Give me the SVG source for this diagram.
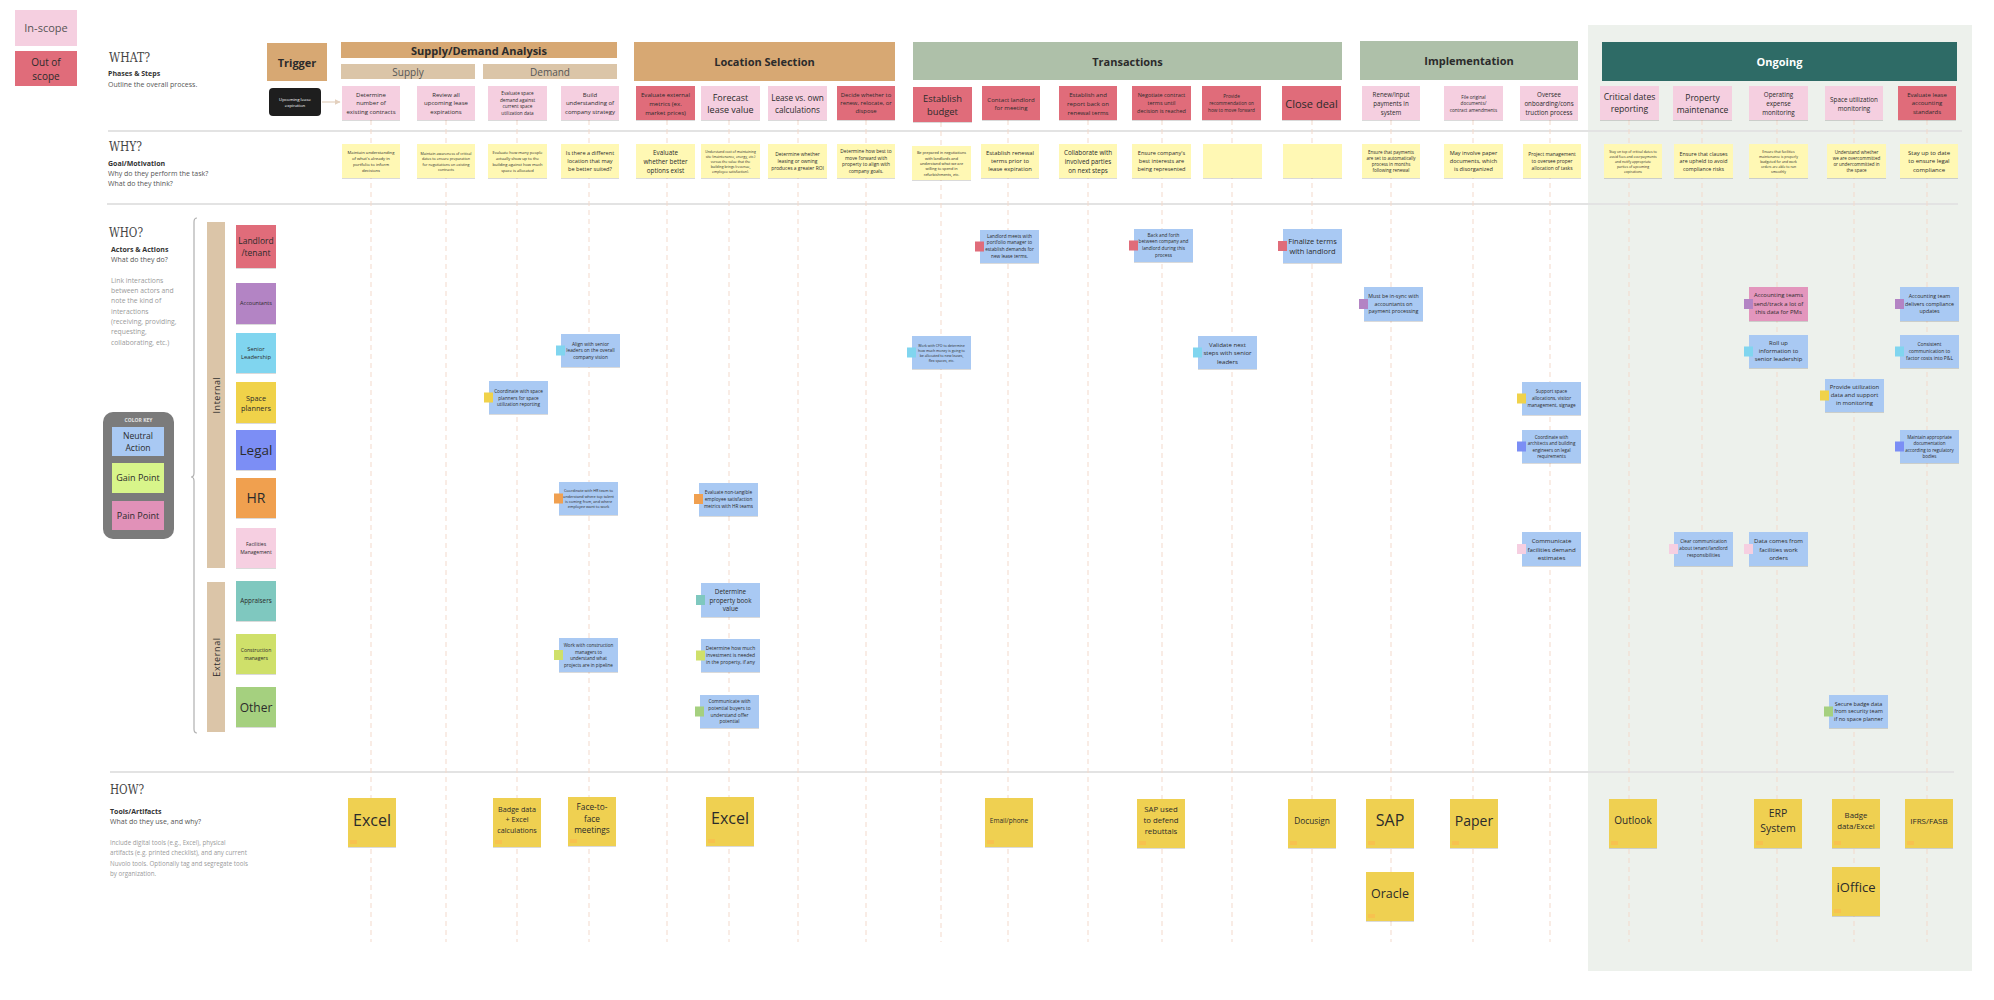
<svg xmlns="http://www.w3.org/2000/svg" width="1994" height="1000" viewBox="0 0 1994 1000">
<defs>
<style>
.t{font-family:"Open Sans","Liberation Sans",sans-serif;fill:#2b2b2b;text-anchor:middle;dominant-baseline:central}
.l{font-family:"Open Sans","Liberation Sans",sans-serif;fill:#333;dominant-baseline:central}
.b{font-weight:700}
.g{fill:#9a9a9a}
.m{fill:#555}
.s{font-family:"DejaVu Serif","Liberation Serif",serif;fill:#444;dominant-baseline:central}
.pk{fill:#f5cfe0}.rd{fill:#e06c7a}.yw{fill:#fff8b4}.bl{fill:#a9c9f3}.tl{fill:#efd051}
.tan{fill:#d7a873}.beige{fill:#dbc5a8}.sage{fill:#aec0a9}
.sh{filter:url(#sh)}
.dash{stroke:#f3d9cb;stroke-width:1;stroke-dasharray:5 4;fill:none}
.sep{stroke:#e3e3e3;stroke-width:2}
.LL{fill:#e06c7a}.AC{fill:#b384c4}.SL{fill:#80d5ef}.SP{fill:#f0d24a}.LG{fill:#7b8ef5}.HR{fill:#f0a050}.FM{fill:#f6cfe1}.AP{fill:#7fc8bf}.CM{fill:#cfe06a}.OT{fill:#a5d07f}
.tt{fill:#f7c24f}
</style>
<filter id="sh" x="-10%" y="-10%" width="120%" height="130%"><feDropShadow dx="0" dy="0.8" stdDeviation="0.6" flood-color="#000" flood-opacity="0.18"/></filter>
<marker id="ah" viewBox="0 0 10 10" refX="9" refY="5" markerWidth="5" markerHeight="5" orient="auto"><path d="M0,0 L10,5 L0,10 z" fill="#e3d0be"/></marker>
</defs>
<rect x="0" y="0" width="1994" height="1000" fill="#ffffff"/>
<rect id="ongoing-panel" x="1588" y="25" width="384" height="946" fill="#edf1ec"/>

<g id="separators">
<line class="sep" x1="108" y1="131" x2="1962" y2="131"/>
<line class="sep" x1="107" y1="204" x2="1958" y2="204"/>
<line class="sep" x1="110" y1="772" x2="1954" y2="772"/>
</g>

<g id="connectors">
<line class="dash" x1="371" y1="120" x2="371" y2="942"/>
<line class="dash" x1="446" y1="120" x2="446" y2="942"/>
<line class="dash" x1="517" y1="120" x2="517" y2="942"/>
<line class="dash" x1="589" y1="120" x2="589" y2="942"/>
<line class="dash" x1="667" y1="120" x2="667" y2="942"/>
<line class="dash" x1="729" y1="120" x2="729" y2="942"/>
<line class="dash" x1="798" y1="120" x2="798" y2="942"/>
<line class="dash" x1="866" y1="120" x2="866" y2="942"/>
<line class="dash" x1="941" y1="122" x2="941" y2="942"/>
<line class="dash" x1="1008" y1="120" x2="1008" y2="942"/>
<line class="dash" x1="1088" y1="120" x2="1088" y2="942"/>
<line class="dash" x1="1162" y1="120" x2="1162" y2="942"/>
<line class="dash" x1="1232" y1="120" x2="1232" y2="942"/>
<line class="dash" x1="1312" y1="120" x2="1312" y2="942"/>
<line class="dash" x1="1391" y1="120" x2="1391" y2="942"/>
<line class="dash" x1="1473" y1="120" x2="1473" y2="942"/>
<line class="dash" x1="1550" y1="120" x2="1550" y2="942"/>
<line class="dash" x1="1629" y1="120" x2="1629" y2="942"/>
<line class="dash" x1="1702" y1="120" x2="1702" y2="942"/>
<line class="dash" x1="1777" y1="120" x2="1777" y2="942"/>
<line class="dash" x1="1854" y1="120" x2="1854" y2="942"/>
<line class="dash" x1="1927" y1="120" x2="1927" y2="942"/>
<line x1="322" y1="102" x2="340" y2="102" stroke="#e3d0be" stroke-width="1.2" marker-end="url(#ah)"/>
</g>

<!-- legend -->
<g id="legend-inscope"><rect class="pk" x="15" y="10" width="62" height="36"/><text class="t m" x="46" y="27.5" font-size="11">In-scope</text></g>
<g id="legend-outscope"><rect class="rd" x="15" y="51" width="62" height="35"/><text class="t" font-size="10"><tspan x="46" y="61.5">Out of</tspan><tspan x="46" y="75.5">scope</tspan></text></g>

<!-- section labels -->
<g id="label-what">
<text class="s" x="109" y="57" font-size="13" textLength="41" lengthAdjust="spacingAndGlyphs">WHAT?</text>
<text class="l b" x="108" y="73" font-size="7">Phases &amp; Steps</text>
<text class="l m" x="108" y="84" font-size="7">Outline the overall process.</text>
</g>
<g id="label-why">
<text class="s" x="109" y="146" font-size="13" textLength="33" lengthAdjust="spacingAndGlyphs">WHY?</text>
<text class="l b" x="108" y="163" font-size="7">Goal/Motivation</text>
<text class="l m" x="108" y="173.3" font-size="7">Why do they perform the task?</text>
<text class="l m" x="108" y="183" font-size="7">What do they think?</text>
</g>
<g id="label-who">
<text class="s" x="109" y="232.5" font-size="13" textLength="34" lengthAdjust="spacingAndGlyphs">WHO?</text>
<text class="l b" x="111" y="249" font-size="7">Actors &amp; Actions</text>
<text class="l m" x="111" y="259" font-size="7">What do they do?</text>
<text class="l g" font-size="6.8"><tspan x="111" y="279.5">Link interactions</tspan><tspan x="111" y="290">between actors and</tspan><tspan x="111" y="300">note the kind of</tspan><tspan x="111" y="310.5">interactions</tspan><tspan x="111" y="320.5">(receiving, providing,</tspan><tspan x="111" y="331">requesting,</tspan><tspan x="111" y="341.5">collaborating, etc.)</tspan></text>
</g>
<g id="label-how">
<text class="s" x="110" y="789.5" font-size="13" textLength="34" lengthAdjust="spacingAndGlyphs">HOW?</text>
<text class="l b" x="110" y="811" font-size="7">Tools/Artifacts</text>
<text class="l m" x="110" y="821.3" font-size="7">What do they use, and why?</text>
<text class="l g" font-size="6.2"><tspan x="110" y="841.7">Include digital tools (e.g., Excel), physical</tspan><tspan x="110" y="852">artifacts (e.g. printed checklist), and any current</tspan><tspan x="110" y="862.7">Nuvolo tools. Optionally tag and segregate tools</tspan><tspan x="110" y="873">by organization.</tspan></text>
</g>

<!-- color key -->
<g id="color-key">
<rect x="103" y="412" width="71" height="127" rx="10" fill="#7b7b7b"/>
<text class="t b" x="138.5" y="420" font-size="5" style="fill:#e4e4e4">COLOR KEY</text>
<rect class="bl" x="112" y="427" width="52" height="29"/>
<text class="t" font-size="8.6"><tspan x="138" y="435.5">Neutral</tspan><tspan x="138" y="447.5">Action</tspan></text>
<rect x="112" y="463" width="52" height="30" fill="#d8f58a"/>
<text class="t" x="138" y="477.5" font-size="9">Gain Point</text>
<rect x="112" y="501" width="52" height="29" fill="#e191b8"/>
<text class="t" x="138" y="515" font-size="9">Pain Point</text>
</g>

<!-- brace and lane bars -->
<path id="brace" d="M197,218 Q194,218 194,222 L194,473 Q194,477 191,477 Q194,477 194,481 L194,729 Q194,733 197,733" fill="none" stroke="#b0b0b0" stroke-width="1.2"/>
<g id="lane-internal"><rect class="beige" x="207" y="222" width="18" height="346"/><text class="t" x="216" y="395" font-size="9" letter-spacing="0.5" transform="rotate(-90 216 395)">Internal</text></g>
<g id="lane-external"><rect class="beige" x="207" y="582" width="18" height="150"/><text class="t" x="216" y="657" font-size="9" letter-spacing="0.6" transform="rotate(-90 216 657)">External</text></g>

<!-- actors -->
<g id="actor-landlord"><rect class="LL sh" x="236" y="225" width="40" height="43"/><text class="t" font-size="8.5"><tspan x="256" y="240">Landlord</tspan><tspan x="256" y="252">/tenant</tspan></text></g>
<g id="actor-accountants"><rect class="AC sh" x="236" y="283" width="40" height="41"/><text class="t" x="256" y="303" font-size="5.5">Accountants</text></g>
<g id="actor-senior"><rect class="SL sh" x="236" y="333" width="40" height="40"/><text class="t" font-size="5.8"><tspan x="256" y="349">Senior</tspan><tspan x="256" y="357">Leadership</tspan></text></g>
<g id="actor-space"><rect class="SP sh" x="236" y="382" width="40" height="41"/><text class="t" font-size="7.3"><tspan x="256" y="397.5">Space</tspan><tspan x="256" y="407.5">planners</tspan></text></g>
<g id="actor-legal"><rect class="LG sh" x="236" y="430" width="40" height="40"/><text class="t" x="256" y="450" font-size="13.5">Legal</text></g>
<g id="actor-hr"><rect class="HR sh" x="236" y="478" width="40" height="40"/><text class="t" x="256" y="497" font-size="14">HR</text></g>
<g id="actor-fm"><rect class="FM sh" x="236" y="528" width="40" height="40"/><text class="t" font-size="5.1"><tspan x="256" y="544">Facilities</tspan><tspan x="256" y="551.5">Management</tspan></text></g>
<g id="actor-appraisers"><rect class="AP sh" x="236" y="581" width="40" height="40"/><text class="t" x="256" y="600" font-size="6.3">Appraisers</text></g>
<g id="actor-construction"><rect class="CM sh" x="236" y="634" width="40" height="40"/><text class="t" font-size="5.1"><tspan x="256" y="650">Construction</tspan><tspan x="256" y="657.5">managers</tspan></text></g>
<g id="actor-other"><rect class="OT sh" x="236" y="687" width="40" height="40"/><text class="t" x="256" y="707" font-size="12">Other</text></g>

<!-- phase headers -->
<g id="hdr-trigger"><rect class="tan" x="267" y="43" width="60" height="38"/><text class="t b" x="297" y="62" font-size="11">Trigger</text></g>
<g id="hdr-supplydemand"><rect class="tan" x="341" y="42" width="276" height="16"/><text class="t b" x="479" y="50" font-size="11">Supply/Demand Analysis</text></g>
<g id="hdr-supply"><rect class="beige" x="341" y="64" width="134" height="15"/><text class="t m" x="408" y="71.5" font-size="10">Supply</text></g>
<g id="hdr-demand"><rect class="beige" x="483" y="64" width="134" height="15"/><text class="t m" x="550" y="71.5" font-size="10">Demand</text></g>
<g id="hdr-location"><rect class="tan" x="634" y="42" width="261" height="39"/><text class="t b" x="764.5" y="61" font-size="11">Location Selection</text></g>
<g id="hdr-transactions"><rect class="sage" x="913" y="42" width="429" height="38"/><text class="t b" x="1127.5" y="61" font-size="11">Transactions</text></g>
<g id="hdr-implementation"><rect class="sage" x="1360" y="41" width="218" height="39"/><text class="t b" x="1469" y="60.5" font-size="11">Implementation</text></g>
<g id="hdr-ongoing"><rect x="1602" y="42" width="355" height="39" fill="#2e6b66"/><text class="t b" x="1779.5" y="61.5" font-size="11" style="fill:#ffffff">Ongoing</text></g>

<!-- trigger event -->
<g id="trigger-event"><rect x="269" y="88" width="52" height="28" rx="4" fill="#1e1e1e"/><text class="t" font-size="4.3" style="fill:#ffffff"><tspan x="295" y="98.7">Upcoming lease</tspan><tspan x="295" y="105.3">expiration</tspan></text></g>

<!-- steps -->
<g id="s01"><rect class="pk sh" x="342" y="86" width="58" height="34"/><text class="t" font-size="6"><tspan x="371" y="94.5">Determine</tspan><tspan x="371" y="103">number of</tspan><tspan x="371" y="111.5">existing contracts</tspan></text></g>
<g id="s02"><rect class="pk sh" x="417" y="86" width="58" height="34"/><text class="t" font-size="6"><tspan x="446" y="94.5">Review all</tspan><tspan x="446" y="103">upcoming lease</tspan><tspan x="446" y="111.5">expirations</tspan></text></g>
<g id="s03"><rect class="pk sh" x="488" y="86" width="59" height="34"/><text class="t" font-size="4.7"><tspan x="517.5" y="93">Evaluate space</tspan><tspan x="517.5" y="99.7">demand against</tspan><tspan x="517.5" y="106.3">current space</tspan><tspan x="517.5" y="113">utilization data</tspan></text></g>
<g id="s04"><rect class="pk sh" x="561" y="86" width="58" height="34"/><text class="t" font-size="6"><tspan x="590" y="94.5">Build</tspan><tspan x="590" y="103">understanding of</tspan><tspan x="590" y="111.5">company strategy</tspan></text></g>
<g id="s05"><rect class="rd sh" x="636" y="86" width="59" height="34"/><text class="t" font-size="6.1"><tspan x="665.5" y="94.3">Evaluate external</tspan><tspan x="665.5" y="103">metrics (ex.</tspan><tspan x="665.5" y="111.7">market prices)</tspan></text></g>
<g id="s06"><rect class="pk sh" x="701" y="86" width="59" height="34"/><text class="t" font-size="9"><tspan x="730.5" y="96.6">Forecast</tspan><tspan x="730.5" y="109.4">lease value</tspan></text></g>
<g id="s07"><rect class="pk sh" x="768" y="86" width="59" height="34"/><text class="t" font-size="8.2"><tspan x="797.5" y="97.2">Lease vs. own</tspan><tspan x="797.5" y="108.8">calculations</tspan></text></g>
<g id="s08"><rect class="rd sh" x="837" y="86" width="58" height="34"/><text class="t" font-size="5.9"><tspan x="866" y="94.6">Decide whether to</tspan><tspan x="866" y="103">renew, relocate, or</tspan><tspan x="866" y="111.4">dispose</tspan></text></g>
<g id="s09"><rect class="rd sh" x="913" y="87" width="59" height="35"/><text class="t" font-size="9.4"><tspan x="942.5" y="97.8">Establish</tspan><tspan x="942.5" y="111.1">budget</tspan></text></g>
<g id="s10"><rect class="rd sh" x="982" y="86" width="58" height="34"/><text class="t" font-size="6.1"><tspan x="1011" y="98.7">Contact landlord</tspan><tspan x="1011" y="107.3">for meeting</tspan></text></g>
<g id="s11"><rect class="rd sh" x="1059" y="86" width="58" height="34"/><text class="t" font-size="6.1"><tspan x="1088" y="94.3">Establish and</tspan><tspan x="1088" y="103">report back on</tspan><tspan x="1088" y="111.7">renewal terms</tspan></text></g>
<g id="s12"><rect class="rd sh" x="1132" y="86" width="59" height="34"/><text class="t" font-size="5.5"><tspan x="1161.5" y="95.2">Negotiate contract</tspan><tspan x="1161.5" y="103">terms until</tspan><tspan x="1161.5" y="110.8">decision is reached</tspan></text></g>
<g id="s13"><rect class="rd sh" x="1202" y="86" width="59" height="34"/><text class="t" font-size="4.7"><tspan x="1231.5" y="96.3">Provide</tspan><tspan x="1231.5" y="103">recommendation on</tspan><tspan x="1231.5" y="109.7">how to move forward</tspan></text></g>
<g id="s14"><rect class="rd sh" x="1282" y="86" width="59" height="34"/><text class="t" x="1311.5" y="103" font-size="11">Close deal</text></g>
<g id="s15"><rect class="pk sh" x="1362" y="86" width="58" height="34"/><text class="t" font-size="6.2"><tspan x="1391" y="94.2">Renew/input</tspan><tspan x="1391" y="103">payments in</tspan><tspan x="1391" y="111.8">system</tspan></text></g>
<g id="s16"><rect class="pk sh" x="1444" y="86" width="59" height="34"/><text class="t" font-size="4.6"><tspan x="1473.5" y="96.5">File original</tspan><tspan x="1473.5" y="103">documents/</tspan><tspan x="1473.5" y="109.5">contract amendments</tspan></text></g>
<g id="s17"><rect class="pk sh" x="1520" y="86" width="58" height="34"/><text class="t" font-size="6.2"><tspan x="1549" y="94.2">Oversee</tspan><tspan x="1549" y="103">onboarding/cons</tspan><tspan x="1549" y="111.8">truction process</tspan></text></g>
<g id="s18"><rect class="pk sh" x="1600" y="86" width="59" height="34"/><text class="t" font-size="8.6"><tspan x="1629.5" y="96.9">Critical dates</tspan><tspan x="1629.5" y="109.1">reporting</tspan></text></g>
<g id="s19"><rect class="pk sh" x="1673" y="86" width="59" height="34"/><text class="t" font-size="8.5"><tspan x="1702.5" y="97">Property</tspan><tspan x="1702.5" y="109">maintenance</tspan></text></g>
<g id="s20"><rect class="pk sh" x="1749" y="86" width="59" height="34"/><text class="t" font-size="6.3"><tspan x="1778.5" y="94">Operating</tspan><tspan x="1778.5" y="103">expense</tspan><tspan x="1778.5" y="112">monitoring</tspan></text></g>
<g id="s21"><rect class="pk sh" x="1825" y="86" width="58" height="34"/><text class="t" font-size="6.3"><tspan x="1854" y="98.5">Space utilization</tspan><tspan x="1854" y="107.5">monitoring</tspan></text></g>
<g id="s22"><rect class="rd sh" x="1898" y="86" width="58" height="34"/><text class="t" font-size="6"><tspan x="1927" y="94.5">Evaluate lease</tspan><tspan x="1927" y="103">accounting</tspan><tspan x="1927" y="111.5">standards</tspan></text></g>

<!-- why -->
<g id="w01"><rect class="yw sh" x="342" y="144" width="58" height="34"/><text class="t" font-size="4.2"><tspan x="371" y="152">Maintain understanding</tspan><tspan x="371" y="158">of what's already in</tspan><tspan x="371" y="164">portfolio to inform</tspan><tspan x="371" y="170">decisions</tspan></text></g>
<g id="w02"><rect class="yw sh" x="417" y="144" width="58" height="34"/><text class="t" font-size="3.7"><tspan x="446" y="153.05">Maintain awareness of critical</tspan><tspan x="446" y="158.35">dates to ensure preparation</tspan><tspan x="446" y="163.65">for negotiations on existing</tspan><tspan x="446" y="168.95">contracts</tspan></text></g>
<g id="w03"><rect class="yw sh" x="488" y="144" width="59" height="34"/><text class="t" font-size="4"><tspan x="517.5" y="152.45">Evaluate how many people</tspan><tspan x="517.5" y="158.15">actually show up to the</tspan><tspan x="517.5" y="163.85">building against how much</tspan><tspan x="517.5" y="169.55">space is allocated</tspan></text></g>
<g id="w04"><rect class="yw sh" x="561" y="144" width="58" height="34"/><text class="t" font-size="5.6"><tspan x="590" y="153">Is there a different</tspan><tspan x="590" y="161">location that may</tspan><tspan x="590" y="169">be better suited?</tspan></text></g>
<g id="w05"><rect class="yw sh" x="636" y="144" width="59" height="34"/><text class="t" font-size="6.3"><tspan x="665.5" y="152">Evaluate</tspan><tspan x="665.5" y="161">whether better</tspan><tspan x="665.5" y="170">options exist</tspan></text></g>
<g id="w06"><rect class="yw sh" x="701" y="144" width="59" height="34"/><text class="t" font-size="3.45"><tspan x="730.5" y="151.2">Understand cost of maintaining</tspan><tspan x="730.5" y="156.1">site (maintenance, energy, etc.)</tspan><tspan x="730.5" y="161">versus the value that the</tspan><tspan x="730.5" y="165.9">building brings (revenue,</tspan><tspan x="730.5" y="170.8">employee satisfaction).</tspan></text></g>
<g id="w07"><rect class="yw sh" x="768" y="144" width="59" height="34"/><text class="t" font-size="4.9"><tspan x="797.5" y="154">Determine whether</tspan><tspan x="797.5" y="161">leasing or owning</tspan><tspan x="797.5" y="168">produces a greater ROI</tspan></text></g>
<g id="w08"><rect class="yw sh" x="837" y="144" width="58" height="34"/><text class="t" font-size="4.8"><tspan x="866" y="150.8">Determine how best to</tspan><tspan x="866" y="157.6">move forward with</tspan><tspan x="866" y="164.4">property to align with</tspan><tspan x="866" y="171.2">company goals.</tspan></text></g>
<g id="w09"><rect class="yw sh" x="912" y="146" width="59" height="34"/><text class="t" font-size="3.8"><tspan x="941.5" y="152.2">Be prepared in negotiations</tspan><tspan x="941.5" y="157.6">with landlords and</tspan><tspan x="941.5" y="163">understand what we are</tspan><tspan x="941.5" y="168.4">willing to spend in</tspan><tspan x="941.5" y="173.8">refurbishments, etc.</tspan></text></g>
<g id="w10"><rect class="yw sh" x="981" y="144" width="58" height="34"/><text class="t" font-size="5.9"><tspan x="1010" y="152.7">Establish renewal</tspan><tspan x="1010" y="161">terms prior to</tspan><tspan x="1010" y="169.3">lease expiration</tspan></text></g>
<g id="w11"><rect class="yw sh" x="1059" y="144" width="58" height="34"/><text class="t" font-size="6.3"><tspan x="1088" y="151.7">Collaborate with</tspan><tspan x="1088" y="161">involved parties</tspan><tspan x="1088" y="170.3">on next steps</tspan></text></g>
<g id="w12"><rect class="yw sh" x="1132" y="144" width="59" height="34"/><text class="t" font-size="5.6"><tspan x="1161.5" y="153">Ensure company's</tspan><tspan x="1161.5" y="161">best interests are</tspan><tspan x="1161.5" y="169">being represented</tspan></text></g>
<g id="w13"><rect class="yw sh" x="1203" y="144" width="59" height="34"/></g>
<g id="w14"><rect class="yw sh" x="1283" y="144" width="59" height="34"/></g>
<g id="w15"><rect class="yw sh" x="1362" y="144" width="58" height="34"/><text class="t" font-size="4.5"><tspan x="1391" y="151.55">Ensure that payments</tspan><tspan x="1391" y="157.85">are set to automatically</tspan><tspan x="1391" y="164.15">process in months</tspan><tspan x="1391" y="170.45">following renewal</tspan></text></g>
<g id="w16"><rect class="yw sh" x="1444" y="144" width="59" height="34"/><text class="t" font-size="5.6"><tspan x="1473.5" y="153">May involve paper</tspan><tspan x="1473.5" y="161">documents, which</tspan><tspan x="1473.5" y="169">is disorganized</tspan></text></g>
<g id="w17"><rect class="yw sh" x="1523" y="144" width="58" height="34"/><text class="t" font-size="4.9"><tspan x="1552" y="154">Project management</tspan><tspan x="1552" y="161">to oversee proper</tspan><tspan x="1552" y="168">allocation of tasks</tspan></text></g>
<g id="w18"><rect class="yw sh" x="1604" y="144" width="58" height="34"/><text class="t" font-size="3.45"><tspan x="1633" y="151.2">Stay on top of critical dates to</tspan><tspan x="1633" y="156.1">avoid fees and overpayments</tspan><tspan x="1633" y="161">and notify appropriate</tspan><tspan x="1633" y="165.9">parties of upcoming</tspan><tspan x="1633" y="170.8">expirations</tspan></text></g>
<g id="w19"><rect class="yw sh" x="1674" y="144" width="59" height="34"/><text class="t" font-size="5.3"><tspan x="1703.5" y="153.5">Ensure that clauses</tspan><tspan x="1703.5" y="161">are upheld to avoid</tspan><tspan x="1703.5" y="168.5">compliance risks</tspan></text></g>
<g id="w20"><rect class="yw sh" x="1749" y="144" width="59" height="34"/><text class="t" font-size="3.45"><tspan x="1778.5" y="151.2">Ensure that facilities</tspan><tspan x="1778.5" y="156.1">maintenance is properly</tspan><tspan x="1778.5" y="161">budgeted for and work</tspan><tspan x="1778.5" y="165.9">orders are able to run</tspan><tspan x="1778.5" y="170.8">smoothly</tspan></text></g>
<g id="w21"><rect class="yw sh" x="1827" y="144" width="59" height="34"/><text class="t" font-size="4.5"><tspan x="1856.5" y="151.55">Understand whether</tspan><tspan x="1856.5" y="157.85">we are overcommitted</tspan><tspan x="1856.5" y="164.15">or undercommitted in</tspan><tspan x="1856.5" y="170.45">the space</tspan></text></g>
<g id="w22"><rect class="yw sh" x="1900" y="144" width="58" height="34"/><text class="t" font-size="6"><tspan x="1929" y="152.5">Stay up to date</tspan><tspan x="1929" y="161">to ensure legal</tspan><tspan x="1929" y="169.5">compliance</tspan></text></g>

<!-- actions -->
<g id="a01"><rect class="bl sh" x="561" y="334" width="59" height="33"/><rect class="SL" x="556" y="345.5" width="9" height="10"/><text class="t" font-size="4.8"><tspan x="590.5" y="343.5">Align with senior</tspan><tspan x="590.5" y="350.3">leaders on the overall</tspan><tspan x="590.5" y="357.1">company vision</tspan></text></g>
<g id="a02"><rect class="bl sh" x="489" y="381" width="59" height="33"/><rect class="SP" x="484" y="392.5" width="9" height="10"/><text class="t" font-size="4.7"><tspan x="518.5" y="390.8">Coordinate with space</tspan><tspan x="518.5" y="397.5">planners for space</tspan><tspan x="518.5" y="404.2">utilization reporting</tspan></text></g>
<g id="a03"><rect class="bl sh" x="559" y="482" width="59" height="33"/><rect class="HR" x="554" y="493.5" width="9" height="10"/><text class="t" font-size="3.8"><tspan x="588.5" y="490.2">Coordinate with HR team to</tspan><tspan x="588.5" y="495.6">understand where top talent</tspan><tspan x="588.5" y="501">is coming from, and where</tspan><tspan x="588.5" y="506.4">employee want to work</tspan></text></g>
<g id="a04"><rect class="bl sh" x="699" y="483" width="59" height="33"/><rect class="HR" x="694" y="494" width="9" height="10"/><text class="t" font-size="4.7"><tspan x="728.5" y="492.3">Evaluate non-tangible</tspan><tspan x="728.5" y="499">employee satisfaction</tspan><tspan x="728.5" y="505.7">metrics with HR teams</tspan></text></g>
<g id="a05"><rect class="bl sh" x="701" y="583" width="59" height="34"/><rect class="AP" x="696" y="595" width="9" height="10"/><text class="t" font-size="6.3"><tspan x="730.5" y="590.5">Determine</tspan><tspan x="730.5" y="599.5">property book</tspan><tspan x="730.5" y="608.3">value</tspan></text></g>
<g id="a06"><rect class="bl sh" x="701" y="639" width="59" height="33"/><rect class="CM" x="696" y="650.5" width="9" height="10"/><text class="t" font-size="4.9"><tspan x="730.5" y="648.4">Determine how much</tspan><tspan x="730.5" y="655.4">investment is needed</tspan><tspan x="730.5" y="662.4">in the property, if any</tspan></text></g>
<g id="a07"><rect class="bl sh" x="700" y="695" width="59" height="33"/><rect class="OT" x="695" y="706.5" width="9" height="10"/><text class="t" font-size="4.8"><tspan x="729.5" y="701">Communicate with</tspan><tspan x="729.5" y="707.8">potential buyers to</tspan><tspan x="729.5" y="714.6">understand offer</tspan><tspan x="729.5" y="721.4">potential</tspan></text></g>
<g id="a08"><rect class="bl sh" x="559" y="638" width="59" height="34"/><rect class="CM" x="554" y="650" width="9" height="10"/><text class="t" font-size="4.6"><tspan x="588.5" y="645.2">Work with construction</tspan><tspan x="588.5" y="651.7">managers to</tspan><tspan x="588.5" y="658.2">understand what</tspan><tspan x="588.5" y="664.7">projects are in pipeline</tspan></text></g>
<g id="a09"><rect class="bl sh" x="912" y="336" width="59" height="33"/><rect class="SL" x="907" y="347.5" width="9" height="10"/><text class="t" font-size="3.5"><tspan x="941.5" y="344.7">Work with CFO to determine</tspan><tspan x="941.5" y="349.7">how much money is going to</tspan><tspan x="941.5" y="354.7">be allocated to new leases,</tspan><tspan x="941.5" y="359.7">flex spaces, etc.</tspan></text></g>
<g id="a10"><rect class="bl sh" x="980" y="230" width="59" height="33"/><rect class="LL" x="975" y="241.5" width="9" height="10"/><text class="t" font-size="4.7"><tspan x="1009.5" y="235.5">Landlord meets with</tspan><tspan x="1009.5" y="242.2">portfolio manager to</tspan><tspan x="1009.5" y="248.8">establish demands for</tspan><tspan x="1009.5" y="255.5">new lease terms.</tspan></text></g>
<g id="a11"><rect class="bl sh" x="1134" y="229" width="59" height="33"/><rect class="LL" x="1129" y="240.5" width="9" height="10"/><text class="t" font-size="4.7"><tspan x="1163.5" y="234.5">Back and forth</tspan><tspan x="1163.5" y="241.2">between company and</tspan><tspan x="1163.5" y="247.8">landlord during this</tspan><tspan x="1163.5" y="254.5">process</tspan></text></g>
<g id="a12"><rect class="bl sh" x="1198" y="336" width="59" height="33"/><rect class="SL" x="1193" y="347.5" width="9" height="10"/><text class="t" font-size="6.1"><tspan x="1227.5" y="343.5">Validate next</tspan><tspan x="1227.5" y="352">steps with senior</tspan><tspan x="1227.5" y="360.5">leaders</tspan></text></g>
<g id="a13"><rect class="bl sh" x="1283" y="229" width="59" height="34"/><rect class="LL" x="1278" y="241" width="9" height="10"/><text class="t" font-size="7.5"><tspan x="1312.5" y="240.5">Finalize terms</tspan><tspan x="1312.5" y="251">with landlord</tspan></text></g>
<g id="a14"><rect class="bl sh" x="1364" y="287" width="59" height="34"/><rect class="AC" x="1359" y="299" width="9" height="10"/><text class="t" font-size="5.3"><tspan x="1393.5" y="296">Must be in-sync with</tspan><tspan x="1393.5" y="303.7">accountants on</tspan><tspan x="1393.5" y="311">payment processing</tspan></text></g>
<g id="a15"><rect class="bl sh" x="1522" y="382" width="59" height="33"/><rect class="SP" x="1517" y="393.5" width="9" height="10"/><text class="t" font-size="4.7"><tspan x="1551.5" y="391.3">Support space</tspan><tspan x="1551.5" y="398">allocations, visitor</tspan><tspan x="1551.5" y="404.7">management, signage</tspan></text></g>
<g id="a16"><rect class="bl sh" x="1522" y="430" width="59" height="33"/><rect class="LG" x="1517" y="441.5" width="9" height="10"/><text class="t" font-size="4.5"><tspan x="1551.5" y="436.5">Coordinate with</tspan><tspan x="1551.5" y="443">architects and building</tspan><tspan x="1551.5" y="449.5">engineers on legal</tspan><tspan x="1551.5" y="456">requirements</tspan></text></g>
<g id="a17"><rect class="bl sh" x="1522" y="532" width="59" height="34"/><rect class="FM" x="1517" y="544" width="9" height="10"/><text class="t" font-size="6.1"><tspan x="1551.5" y="540.2">Communicate</tspan><tspan x="1551.5" y="548.6">facilities demand</tspan><tspan x="1551.5" y="557">estimates</tspan></text></g>
<g id="a18"><rect class="bl sh" x="1674" y="532" width="59" height="34"/><rect class="FM" x="1669" y="544" width="9" height="10"/><text class="t" font-size="4.7"><tspan x="1703.5" y="541.3">Clear communication</tspan><tspan x="1703.5" y="548">about tenant/landlord</tspan><tspan x="1703.5" y="554.7">responsibilities</tspan></text></g>
<g id="a19"><rect class="sh" x="1749" y="287" width="59" height="34" fill="#e396bd"/><rect class="AC" x="1744" y="299" width="9" height="10"/><text class="t" font-size="5.9"><tspan x="1778.5" y="295.3">Accounting teams</tspan><tspan x="1778.5" y="303.6">send/track a lot of</tspan><tspan x="1778.5" y="311.9">this data for PMs</tspan></text></g>
<g id="a20"><rect class="bl sh" x="1749" y="335" width="59" height="33"/><rect class="SL" x="1744" y="346.5" width="9" height="10"/><text class="t" font-size="5.9"><tspan x="1778.5" y="342.8">Roll up</tspan><tspan x="1778.5" y="351.1">information to</tspan><tspan x="1778.5" y="359.4">senior leadership</tspan></text></g>
<g id="a21"><rect class="bl sh" x="1749" y="532" width="59" height="34"/><rect class="FM" x="1744" y="544" width="9" height="10"/><text class="t" font-size="6.1"><tspan x="1778.5" y="540.2">Data comes from</tspan><tspan x="1778.5" y="548.6">facilities work</tspan><tspan x="1778.5" y="557">orders</tspan></text></g>
<g id="a22"><rect class="bl sh" x="1825" y="379" width="59" height="33"/><rect class="SP" x="1820" y="390.5" width="9" height="10"/><text class="t" font-size="5.9"><tspan x="1854.5" y="386.8">Provide utilization</tspan><tspan x="1854.5" y="395.1">data and support</tspan><tspan x="1854.5" y="403.4">in monitoring</tspan></text></g>
<g id="a23"><rect class="bl sh" x="1829" y="695" width="59" height="33"/><rect class="OT" x="1824" y="706.5" width="9" height="10"/><text class="t" font-size="5.5"><tspan x="1858.5" y="703.5">Secure badge data</tspan><tspan x="1858.5" y="711.3">from security team</tspan><tspan x="1858.5" y="719.1">if no space planner</tspan></text></g>
<g id="a24"><rect class="bl sh" x="1900" y="287" width="59" height="34"/><rect class="AC" x="1895" y="299" width="9" height="10"/><text class="t" font-size="5.3"><tspan x="1929.5" y="296">Accounting team</tspan><tspan x="1929.5" y="303.7">delivers compliance</tspan><tspan x="1929.5" y="311">updates</tspan></text></g>
<g id="a25"><rect class="bl sh" x="1900" y="335" width="59" height="33"/><rect class="SL" x="1895" y="346.5" width="9" height="10"/><text class="t" font-size="4.9"><tspan x="1929.5" y="343.7">Consistent</tspan><tspan x="1929.5" y="350.6">communication to</tspan><tspan x="1929.5" y="357.5">factor costs into P&amp;L</tspan></text></g>
<g id="a26"><rect class="bl sh" x="1900" y="430" width="59" height="33"/><rect class="LG" x="1895" y="441.5" width="9" height="10"/><text class="t" font-size="4.5"><tspan x="1929.5" y="436.5">Maintain appropriate</tspan><tspan x="1929.5" y="443">documentation</tspan><tspan x="1929.5" y="449.5">according to regulatory</tspan><tspan x="1929.5" y="456">bodies</tspan></text></g>

<!-- tools -->
<g id="h01"><rect class="tl sh" x="348" y="798" width="48" height="49"/><rect class="tt" x="350" y="840" width="7" height="4"/><text class="t" x="372" y="820" font-size="16">Excel</text></g>
<g id="h02"><rect class="tl sh" x="493" y="798" width="48" height="49"/><rect class="tt" x="495" y="840" width="7" height="4"/><text class="t" font-size="7.2"><tspan x="517" y="809">Badge data</tspan><tspan x="517" y="819.3">+ Excel</tspan><tspan x="517" y="829.5">calculations</tspan></text></g>
<g id="h03"><rect class="tl sh" x="568" y="797" width="48" height="49"/><rect class="tt" x="570" y="839" width="7" height="4"/><text class="t" font-size="8.3"><tspan x="592" y="806">Face-to-</tspan><tspan x="592" y="817.5">face</tspan><tspan x="592" y="829">meetings</tspan></text></g>
<g id="h04"><rect class="tl sh" x="706" y="797" width="48" height="49"/><rect class="tt" x="708" y="839" width="7" height="4"/><text class="t" x="730" y="817.5" font-size="16">Excel</text></g>
<g id="h05"><rect class="tl sh" x="985" y="798" width="48" height="49"/><rect class="tt" x="987" y="840" width="7" height="4"/><text class="t" x="1009" y="820.7" font-size="6.5">Email/phone</text></g>
<g id="h06"><rect class="tl sh" x="1137" y="799" width="48" height="49"/><rect class="tt" x="1139" y="841" width="7" height="4"/><text class="t" font-size="7.8"><tspan x="1161" y="809.3">SAP used</tspan><tspan x="1161" y="820.3">to defend</tspan><tspan x="1161" y="831.3">rebuttals</tspan></text></g>
<g id="h07"><rect class="tl sh" x="1288" y="799" width="48" height="49"/><rect class="tt" x="1290" y="841" width="7" height="4"/><text class="t" x="1312" y="820.7" font-size="8.3">Docusign</text></g>
<g id="h08"><rect class="tl sh" x="1366" y="799" width="48" height="49"/><rect class="tt" x="1368" y="841" width="7" height="4"/><text class="t" x="1390" y="820" font-size="16">SAP</text></g>
<g id="h09"><rect class="tl sh" x="1450" y="799" width="48" height="49"/><rect class="tt" x="1452" y="841" width="7" height="4"/><text class="t" x="1474" y="820.7" font-size="14">Paper</text></g>
<g id="h10"><rect class="tl sh" x="1366" y="872" width="48" height="49"/><rect class="tt" x="1368" y="914" width="7" height="4"/><text class="t" x="1390" y="893.3" font-size="12.5">Oracle</text></g>
<g id="h11"><rect class="tl sh" x="1609" y="799" width="48" height="49"/><rect class="tt" x="1611" y="841" width="7" height="4"/><text class="t" x="1633" y="820" font-size="10">Outlook</text></g>
<g id="h12"><rect class="tl sh" x="1754" y="799" width="48" height="49"/><rect class="tt" x="1756" y="841" width="7" height="4"/><text class="t" font-size="10.5"><tspan x="1778" y="813.3">ERP</tspan><tspan x="1778" y="828.3">System</tspan></text></g>
<g id="h13"><rect class="tl sh" x="1832" y="799" width="48" height="49"/><rect class="tt" x="1834" y="841" width="7" height="4"/><text class="t" font-size="7.8"><tspan x="1856" y="815">Badge</tspan><tspan x="1856" y="825.7">data/Excel</tspan></text></g>
<g id="h14"><rect class="tl sh" x="1905" y="799" width="48" height="49"/><rect class="tt" x="1907" y="841" width="7" height="4"/><text class="t" x="1929" y="820.7" font-size="8">IFRS/FASB</text></g>
<g id="h15"><rect class="tl sh" x="1832" y="867" width="48" height="49"/><rect class="tt" x="1834" y="909" width="7" height="4"/><text class="t" x="1856" y="887.3" font-size="13">iOffice</text></g>
</svg>
